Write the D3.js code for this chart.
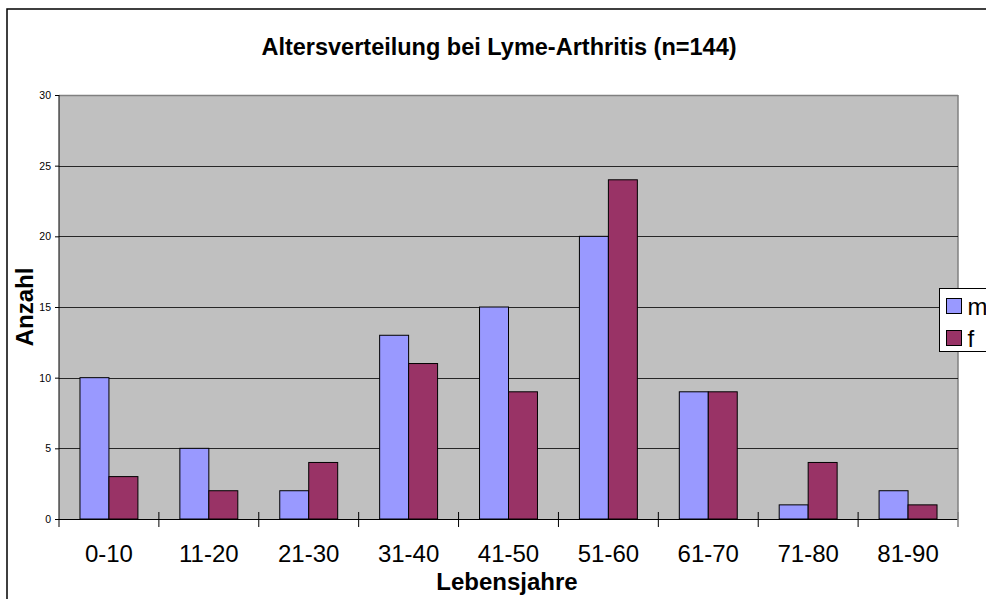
<!DOCTYPE html>
<html>
<head>
<meta charset="utf-8">
<script src="https://cdn.jsdelivr.net/npm/d3@7"></script>
<style>
body { margin: 0; background: #fff; }
text { font-family: "Liberation Sans", Arial, sans-serif; }
</style>
</head>
<body>
<script>
// Altersgruppen und Fallzahlen
var categories = ["0-10", "11-20", "21-30", "31-40", "41-50", "51-60", "61-70", "71-80", "81-90"];
var seriesNames = ["m", "f"];
var mValues = [10, 5, 2, 13, 15, 20, 9, 1, 2];
var fValues = [3, 2, 4, 11, 9, 24, 9, 4, 1];
var yTicks = [0, 5, 10, 15, 20, 25, 30];

var w = 986, h = 599;
var colors = { m: "#9999ff", f: "#993366" };
var plotL = 59, plotR = 958, plotT = 95, plotB = 519;

var svg = d3.select("body").append("svg")
    .attr("width", w)
    .attr("height", h);

// Rahmen
svg.append("rect")
    .attr("x", 7).attr("y", 9)
    .attr("width", 1000).attr("height", 620)
    .attr("fill", "#fff")
    .attr("stroke", "#000")
    .attr("stroke-width", 1.5);

var x = d3.scaleBand()
    .domain(categories)
    .range([plotL, plotR])
    .paddingInner(0.42)
    .paddingOuter(0.21);

var x1 = d3.scaleBand()
    .domain(seriesNames)
    .range([0, x.bandwidth()]);

var y = d3.scaleLinear()
    .domain([0, 30])
    .range([plotB, plotT]);

// Plotfläche
svg.append("rect")
    .attr("x", plotL).attr("y", plotT)
    .attr("width", plotR - plotL).attr("height", plotB - plotT)
    .attr("fill", "#c0c0c0");

svg.append("line")
    .attr("x1", plotL).attr("x2", plotR)
    .attr("y1", plotT + 0.5).attr("y2", plotT + 0.5)
    .attr("stroke", "#808080").attr("stroke-width", 1.5);
svg.append("line")
    .attr("x1", plotR).attr("x2", plotR)
    .attr("y1", plotT).attr("y2", plotB)
    .attr("stroke", "#808080").attr("stroke-width", 1.5);

// Gitterlinien
svg.append("g").selectAll("line")
    .data(yTicks.filter(function(d) { return d > 0 && d < 30; }))
    .enter().append("line")
    .attr("x1", plotL).attr("x2", plotR)
    .attr("y1", function(d) { return Math.round(y(d)) + 0.5; })
    .attr("y2", function(d) { return Math.round(y(d)) + 0.5; })
    .attr("stroke", "#000").attr("stroke-width", 0.8);

// Balken
var data = categories.map(function(c, i) {
    return { cat: c, m: mValues[i], f: fValues[i] };
});

var groups = svg.append("g").selectAll("g")
    .data(data)
    .enter().append("g")
    .attr("transform", function(d) { return "translate(" + x(d.cat) + ",0)"; });

groups.selectAll("rect")
    .data(function(d) { return seriesNames.map(function(s) { return { key: s, value: d[s] }; }); })
    .enter().append("rect")
    .attr("x", function(d) { return x1(d.key); })
    .attr("y", function(d) { return y(d.value); })
    .attr("width", x1.bandwidth())
    .attr("height", function(d) { return y(0) - y(d.value); })
    .attr("fill", function(d) { return colors[d.key]; })
    .attr("stroke", "#000")
    .attr("stroke-width", 1);

// Y-Achse
var yAxis = svg.append("g")
    .attr("transform", "translate(" + plotL + ",0)")
    .call(d3.axisLeft(y).tickValues(yTicks).tickSize(4).tickPadding(4));
yAxis.select(".domain").remove();
yAxis.selectAll("text").style("font-size", "10.5px").attr("fill", "#000");
yAxis.selectAll("line").attr("stroke", "#000");
svg.append("line")
    .attr("x1", plotL).attr("x2", plotL)
    .attr("y1", plotT).attr("y2", plotB + 8)
    .attr("stroke", "#000");

// X-Achse
svg.append("line")
    .attr("x1", plotL).attr("x2", plotR)
    .attr("y1", plotB + 0.5).attr("y2", plotB + 0.5)
    .attr("stroke", "#000");

var tickPos = categories.map(function(c) { return x(c) - x.step() * 0.21; }).concat([plotR]);
svg.append("g").selectAll("line")
    .data(tickPos.slice(1))
    .enter().append("line")
    .attr("x1", function(d) { return d; }).attr("x2", function(d) { return d; })
    .attr("y1", plotB - 7).attr("y2", plotB + 8)
    .attr("stroke", function(d, i) { return i === tickPos.length - 2 ? "#808080" : "#000"; })
    .attr("stroke-width", function(d, i) { return i === tickPos.length - 2 ? 1.5 : 1; });

svg.append("g").selectAll("text")
    .data(categories)
    .enter().append("text")
    .attr("x", function(d) { return x(d) + x.bandwidth() / 2; })
    .attr("y", 562)
    .attr("text-anchor", "middle")
    .style("font-size", "24px")
    .text(function(d) { return d; });

// Titel
svg.append("text")
    .attr("x", 499).attr("y", 55)
    .attr("text-anchor", "middle")
    .style("font-size", "23.5px")
    .style("font-weight", "bold")
    .text("Altersverteilung bei Lyme-Arthritis (n=144)");

svg.append("text")
    .attr("x", 507).attr("y", 590)
    .attr("text-anchor", "middle")
    .style("font-size", "24px")
    .style("font-weight", "bold")
    .text("Lebensjahre");

svg.append("text")
    .attr("transform", "translate(33,307) rotate(-90)")
    .attr("text-anchor", "middle")
    .style("font-size", "24px")
    .style("font-weight", "bold")
    .text("Anzahl");

// Legende
var legend = svg.append("g").attr("transform", "translate(939,288)");
legend.append("rect")
    .attr("x", 0.5).attr("y", 0.5)
    .attr("width", 80).attr("height", 63)
    .attr("fill", "#fff").attr("stroke", "#000");
var items = legend.selectAll("g.item")
    .data(seriesNames)
    .enter().append("g")
    .attr("class", "item")
    .attr("transform", function(d, i) { return "translate(7.5," + (10.5 + i * 32) + ")"; });
items.append("rect")
    .attr("width", 15).attr("height", 15)
    .attr("fill", function(d) { return colors[d]; })
    .attr("stroke", "#000");
items.append("text")
    .attr("x", 21).attr("y", 16)
    .style("font-size", "24px")
    .text(function(d) { return d; });
</script>
</body>
</html>
